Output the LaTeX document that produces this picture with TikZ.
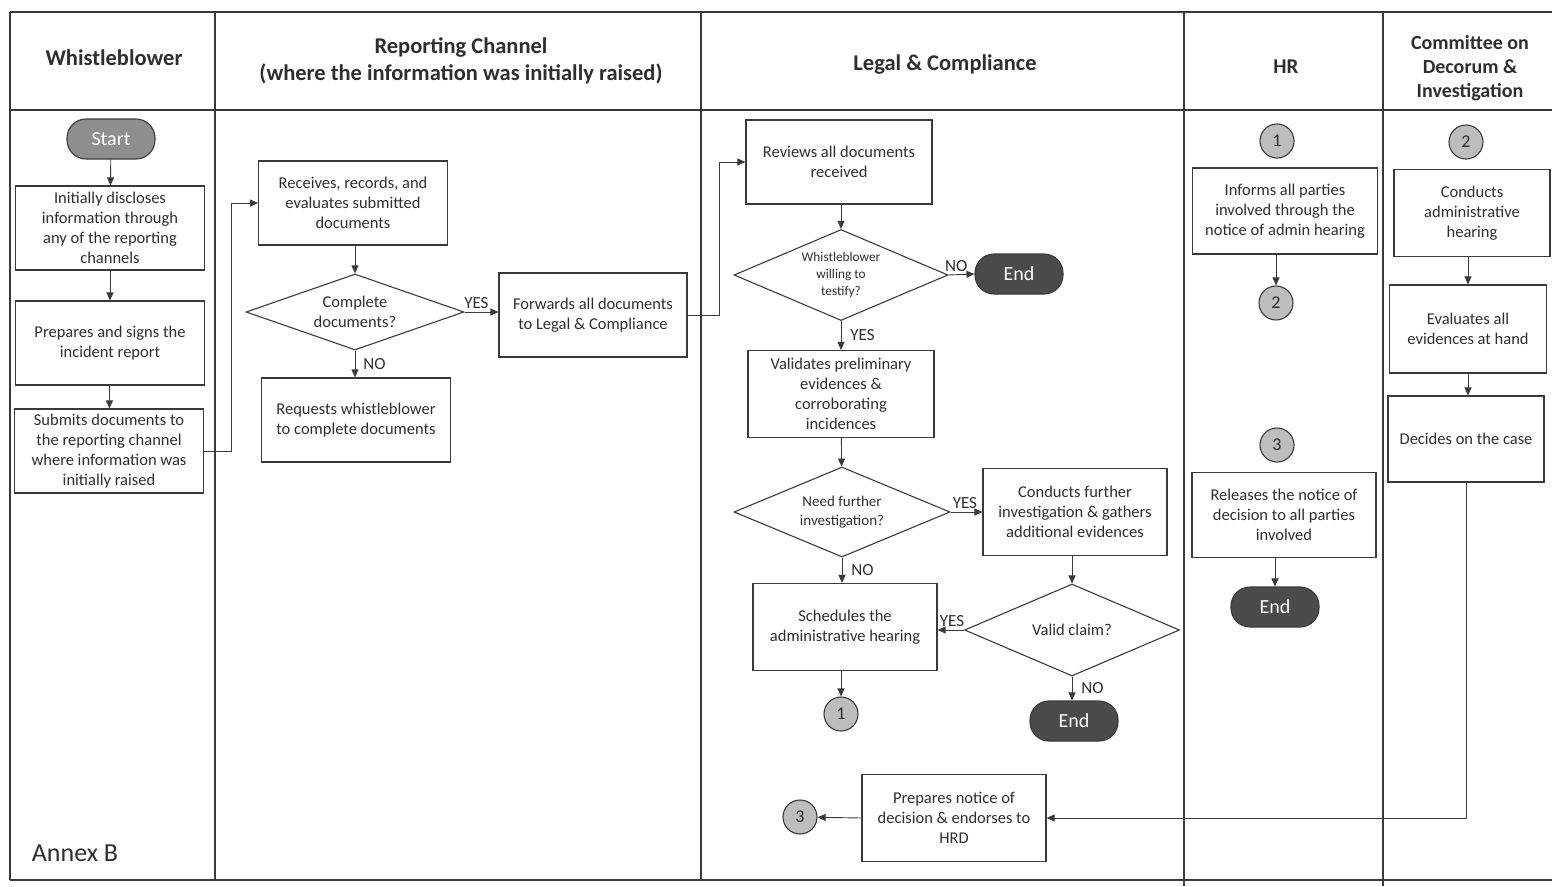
\documentclass[tikz,border=0pt]{standalone}
\usepackage{fontspec}
\setmainfont{Carlito}
\usetikzlibrary{shapes.geometric,arrows.meta}
\definecolor{inkgray}{HTML}{3A3A3A}
\definecolor{txtgray}{HTML}{2E2E2E}
\definecolor{startgray}{HTML}{8E8E8E}
\definecolor{endgray}{HTML}{4B4B4B}
\definecolor{conngray}{HTML}{BDBDBD}
\begin{document}
\begin{tikzpicture}[x=1pt,y=-1pt,
	lane/.style={inkgray,line width=1.3pt},
	head/.style={font=\fontsize{22.5}{27}\selectfont\bfseries,text=txtgray,align=center},
	box/.style={draw=inkgray,line width=1.1pt,minimum width=187pt,minimum height=84pt,align=center,inner sep=2pt,font=\fontsize{16.5}{20}\selectfont,text=txtgray},
	decision/.style={diamond,draw=inkgray,line width=1.1pt,aspect=2.4,inner sep=1pt,align=center,font=\fontsize{16.5}{20}\selectfont,text=txtgray},
	term/.style={draw=inkgray,line width=1.1pt,rounded corners=19pt,minimum width=88pt,minimum height=40pt,text=white,font=\fontsize{20}{22}\selectfont},
	conn/.style={circle,draw=inkgray,line width=1.1pt,fill=conngray,minimum size=34pt,inner sep=0pt,text=txtgray,font=\fontsize{18}{20}\selectfont},
	arr/.style={draw=inkgray,line width=0.9pt,-{Triangle[length=8pt,width=7pt]}},
	lbl/.style={font=\fontsize{17}{19}\selectfont,text=txtgray,inner sep=3pt}]
	\useasboundingbox (0,0) rectangle (1552,886);
	% swimlane frame
	\draw[lane] (10,12) -- (1552,12);
	\draw[lane] (10,110) -- (1552,110);
	\draw[lane] (10,880) -- (1552,880);
	\draw[lane] (10,12) -- (10,880);
	\draw[lane] (215,12) -- (215,880);
	\draw[lane] (701,12) -- (701,880);
	\draw[lane] (1184,12) -- (1184,886);
	\draw[lane] (1383,12) -- (1383,886);
	\node[head](hwb) at (114,58){Whistleblower};
	\node[head](hrc) at (461,61){Reporting Channel\\(where the information was initially raised)};
	\node[head](hlc) at (945,65){Legal \& Compliance};
	\node[head,font=\fontsize{21}{24}\selectfont\bfseries](hhr) at (1286,67){HR};
	\node[head,font=\fontsize{20}{24}\selectfont\bfseries](hcd) at (1470,68){Committee on\\Decorum \&\\Investigation};
	\node[font=\fontsize{26}{28}\selectfont,text=txtgray](annex) at (75,853){Annex B};
	% whistleblower
	\node[term,fill=startgray](start) at (111,139){Start};
	\node[box,minimum width=189pt](s1) at (110,228){Initially discloses\\information through\\any of the reporting\\channels};
	\node[box,minimum width=189pt](s2) at (110,343){Prepares and signs the\\incident report};
	\node[box,minimum width=189pt](s3) at (109,451){Submits documents to\\the reporting channel\\where information was\\initially raised};
	% reporting channel
	\node[box,minimum width=189pt](rc1) at (353,203){Receives, records, and\\evaluates submitted\\documents};
	\node[decision,minimum width=218pt,minimum height=76pt](d1) at (355,312){Complete\\documents?};
	\node[box,minimum width=189pt](rc2) at (356,420){Requests whistleblower\\to complete documents};
	\node[box,minimum width=188pt](rc3) at (593,315){Forwards all documents\\to Legal \& Compliance};
	% legal & compliance
	\node[box,minimum width=186pt](lc1) at (839,162){Reviews all documents\\received};
	\node[decision,minimum width=214pt,minimum height=91pt,font=\fontsize{13.3}{17}\selectfont](d2) at (841,275){Whistleblower\\willing to\\testify?};
	\node[term,fill=endgray](end1) at (1019,274){End};
	\node[box,minimum width=186pt,minimum height=87pt](lc2) at (841,394){Validates preliminary\\evidences \&\\corroborating\\incidences};
	\node[decision,minimum width=216pt,minimum height=90pt,font=\fontsize{15}{19}\selectfont](d3) at (842,512){Need further\\investigation?};
	\node[box,minimum width=184pt,minimum height=87pt](lc3) at (1075,512){Conducts further\\investigation \& gathers\\additional evidences};
	\node[box,minimum width=184pt,minimum height=87pt](lc4) at (845,627){Schedules the\\administrative hearing};
	\node[decision,minimum width=215pt,minimum height=92pt](d4) at (1072,630){Valid claim?};
	\node[term,fill=endgray](end2) at (1074,721){End};
	\node[conn](n1) at (841,714){1};
	\node[box,minimum width=184pt,minimum height=87pt](lc5) at (954,818){Prepares notice of\\decision \& endorses to\\HRD};
	\node[conn](n3) at (800,817){3};
	% HR
	\node[conn](h1) at (1277,141){1};
	\node[box,minimum width=185pt,minimum height=86pt](hr1) at (1285,211){Informs all parties\\involved through the\\notice of admin hearing};
	\node[conn](h2) at (1276,303){2};
	\node[conn](h3) at (1277,445){3};
	\node[box,minimum width=184pt,minimum height=85pt](hr2) at (1284,515){Releases the notice of\\decision to all parties\\involved};
	\node[term,fill=endgray](end3) at (1275,607){End};
	% committee
	\node[conn](c2) at (1466,142){2};
	\node[box,minimum width=156pt,minimum height=87pt](cd1) at (1472,213){Conducts\\administrative\\hearing};
	\node[box,minimum width=157pt,minimum height=88pt](cd2) at (1468,329){Evaluates all\\evidences at hand};
	\node[box,minimum width=156pt,minimum height=86pt](cd3) at (1466,439){Decides on the case};
	% connectors
	\draw[arr](start)--(s1);
	\draw[arr](s1)--(s2);
	\draw[arr](s2)--(s3);
	\draw[arr](s3.east)--++(27,0)|-(rc1.west);
	\draw[arr](rc1.south-|d1)--(d1);
	\draw[arr](d1.east)--node[lbl,above,pos=0.35]{YES}(rc3.west|-d1.east);
	\draw[arr](d1)--node[lbl,right,xshift=5pt]{NO}(d1|-rc2.north);
	\draw[arr](rc3.east)--++(32,0)|-(lc1.west);
	\draw[arr](lc1.south-|d2)--(d2);
	\draw[arr](d2.east)--node[lbl,above,pos=0.3]{NO}(end1.west);
	\draw[arr](d2)--node[lbl,right,xshift=6pt]{YES}(lc2);
	\draw[arr](lc2)--(d3);
	\draw[arr](d3.east)--node[lbl,above,pos=0.45]{YES}(lc3.west);
	\draw[arr](d3)--node[lbl,right,xshift=6pt]{NO}(d3|-lc4.north);
	\draw[arr](lc3.south-|d4)--(d4);
	\draw[arr](d4.west)--node[lbl,above,pos=0.45]{YES}(lc4.east|-d4.west);
	\draw[arr](d4)--node[lbl,right,xshift=6pt]{NO}(d4|-end2.north);
	\draw[arr](lc4.south-|n1)--(n1);
	\draw[arr](lc5.west)--(n3);
	\draw[arr](hr1.south-|h2)--(h2);
	\draw[arr](hr2.south-|end3)--(end3);
	\draw[arr](cd1.south-|cd2)--(cd2);
	\draw[arr](cd2.south)--(cd2.south|-cd3.north);
	\draw[arr](cd3.south)|-(lc5.east);
\end{tikzpicture}
\end{document}
